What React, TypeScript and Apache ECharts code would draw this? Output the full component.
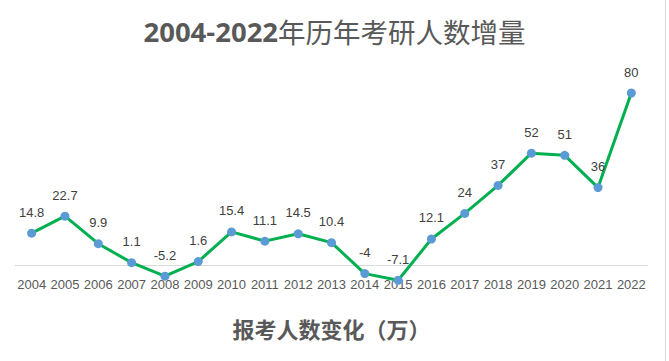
import React, { useEffect, useRef } from "react";
import * as echarts from "echarts";

const years = ["2004","2005","2006","2007","2008","2009","2010","2011","2012","2013","2014","2015","2016","2017","2018","2019","2020","2021","2022"];
const increments = [14.8, 22.7, 9.9, 1.1, -5.2, 1.6, 15.4, 11.1, 14.5, 10.4, -4, -7.1, 12.1, 24, 37, 52, 51, 36, 80];
const titleNumbers = "2004-2022";
const titleWords = "年历年考研人数增量";
const axisTitle = "报考人数变化（万）";

export default function App() {
  const ref = useRef<HTMLDivElement>(null);
  useEffect(() => {
    if (!ref.current) return;
    const chart = echarts.init(ref.current, undefined, { renderer: "svg" });
    chart.setOption({
      animation: false,
      backgroundColor: "#ffffff",
      title: {
        text: `{b|${titleNumbers}}{n|${titleWords}}`,
        left: "center",
        top: 12,
        textStyle: {
          rich: {
            b: { fontFamily: "Open Sans", fontWeight: "bold", fontSize: 27.5, color: "#595959" },
            n: { fontFamily: "Noto Sans CJK SC", fontWeight: "normal", fontSize: 27.5, color: "#595959" },
          },
        },
      },
      grid: { left: 15, right: 21, top: 67.2, bottom: 361 - 282.2, containLabel: false },
      xAxis: {
        type: "category",
        data: years,
        boundaryGap: true,
        axisLine: { show: false },
        axisTick: { show: false },
        axisLabel: { fontFamily: "Liberation Sans", fontSize: 13, color: "#595959", margin: -4, interval: 0 },
        name: axisTitle,
        nameLocation: "middle",
        nameGap: 35,
        nameTextStyle: { fontFamily: "Noto Sans CJK SC", fontWeight: "bold", fontSize: 22, color: "#595959" },
      },
      yAxis: {
        type: "value",
        min: -8,
        max: 92,
        show: false,
      },
      series: [
        {
          type: "line",
          data: increments,
          clip: false,
          symbol: "circle",
          symbolSize: 9,
          itemStyle: { color: "#5b9bd5" },
          lineStyle: { color: "#00b050", width: 3 },
          label: {
            show: true,
            position: "top",
            distance: 10,
            fontFamily: "Liberation Sans",
            fontSize: 13,
            color: "#404040",
          },
          markLine: {
            silent: true,
            symbol: "none",
            label: { show: false },
            lineStyle: { color: "#d9d9d9", width: 1, type: "solid" },
            data: [{ yAxis: 0 }],
            z: 1,
          },
          z: 3,
        },
      ],
      graphic: [
        { type: "line", shape: { x1: 665.5, y1: 0, x2: 665.5, y2: 361 }, style: { stroke: "#d9d9d9", lineWidth: 1 } },
      ],
    });
    return () => chart.dispose();
  }, []);
  return <div ref={ref} style={{ width: 669, height: 361, position: "absolute", left: 0, top: 0 }} />;
}
